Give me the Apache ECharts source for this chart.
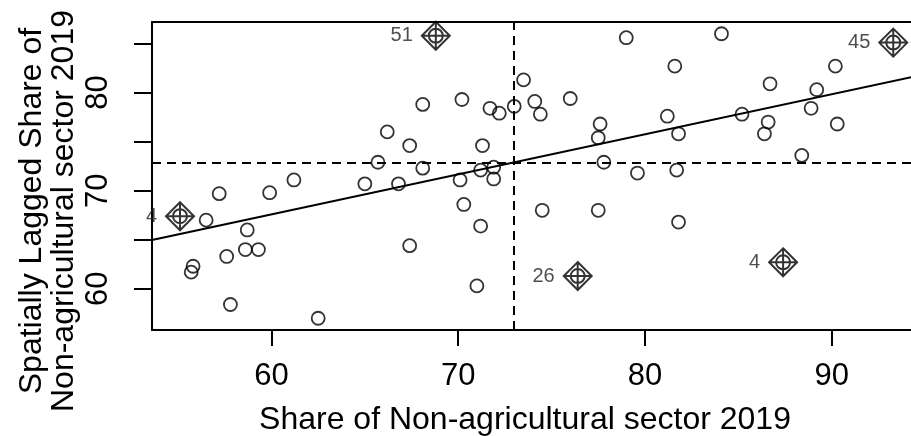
<!DOCTYPE html>
<html>
<head>
<meta charset="utf-8">
<script src="https://cdn.jsdelivr.net/npm/echarts@6/dist/echarts.min.js"></script>
<style>
  html, body { margin: 0; padding: 0; background: #fff; }
  #chart { width: 911px; height: 436px; }
</style>
</head>
<body>
<div id="chart"></div>
<script>
// share of non-agricultural sector (x) and its spatial lag (y)
var shareX = [66.2, 65.7, 79.0, 73.5, 68.1, 70.2, 71.7, 72.2, 73.0, 74.1,
              74.4, 76.0, 67.4, 71.3, 77.6, 77.5, 77.8, 79.6, 84.1, 81.6,
              90.2, 86.7, 89.2, 88.9, 85.2, 81.2, 81.8, 86.6, 86.4, 90.3,
              88.4, 81.7, 81.8, 61.2, 65.0, 66.8, 57.2, 59.9, 56.5, 58.7,
              57.6, 58.6, 59.3, 55.8, 55.7, 57.8, 62.5, 68.1, 70.1, 71.2,
              71.9, 71.9, 70.3, 71.2, 67.4, 71.0, 74.5, 77.5];
var lagY   = [76.0, 72.9, 85.6, 81.3, 78.8, 79.3, 78.4, 77.9, 78.6, 79.1,
              77.8, 79.4, 74.6, 74.6, 76.8, 75.4, 72.9, 71.8, 86.0, 82.7,
              82.7, 80.9, 80.3, 78.4, 77.8, 77.6, 75.8, 77.0, 75.8, 76.8,
              73.6, 72.1, 66.8, 71.1, 70.7, 70.7, 69.7, 69.8, 67.0, 66.0,
              63.3, 64.0, 64.0, 62.3, 61.7, 58.4, 57.0, 72.3, 71.1, 72.1,
              72.4, 71.2, 68.6, 66.4, 64.4, 60.3, 68.0, 68.0];

// influential observations
var inflLabels = ['51', '45', '26', '4', '4'];
var inflX = [68.8, 93.3, 76.4, 87.4, 55.1];
var inflY = [85.8, 85.1, 61.3, 62.7, 67.4];

var meanX = 73.0;
var meanY = 72.9;
var slope = 0.408;

var xTicks = [60, 70, 80, 90];
var yTicks = [60, 65, 70, 75, 80, 85];
var yLabels = [60, 70, 80];

var xMin = 53.6, xMax = 95;
var yMin = 55.8, yMax = 87.2;

var font = 'Liberation Sans, Arial, sans-serif';

function initChart() {
    var chart = echarts.init(document.getElementById('chart'));

    var pts = shareX.map(function(v, i) { return [v, lagY[i]]; });
    var infl = inflX.map(function(v, i) { return { value: [v, inflY[i]], name: inflLabels[i] }; });
    var fitLine = [xMin, xMax].map(function(x) { return [x, meanY + slope * (x - meanX)]; });

    // diamond with a crossed circle inside
    var inflSymbol = 'path://M0,-14 L14,0 L0,14 L-14,0 Z M-14,0 L14,0 M0,-14 L0,14 ' +
        'M-7,0 A7,7 0 1,0 7,0 A7,7 0 1,0 -7,0';

    var option = {
        animation: false,
        backgroundColor: '#fff',
        // plot box runs past the right edge of the picture
        grid: {
            left: 152, top: 22, width: 773, bottom: 106,
            outerBoundsMode: 'none',
            show: true, borderColor: '#000', borderWidth: 2
        },
        xAxis: {
            type: 'value', min: xMin, max: xMax,
            splitLine: { show: false },
            axisLine: { show: true, onZero: false, lineStyle: { color: '#000', width: 2 } },
            axisTick: { show: true, length: 16, customValues: xTicks, lineStyle: { color: '#000', width: 2 } },
            axisLabel: { customValues: xTicks, fontSize: 31, color: '#000', fontFamily: font, margin: 31 }
        },
        yAxis: {
            type: 'value', min: yMin, max: yMax,
            splitLine: { show: false },
            axisLine: { show: true, onZero: false, lineStyle: { color: '#000', width: 2 } },
            axisTick: { show: true, length: 18, customValues: yTicks, lineStyle: { color: '#000', width: 2 } },
            axisLabel: { customValues: yLabels, rotate: 90, fontSize: 31, color: '#000', fontFamily: font, margin: 38 }
        },
        graphic: [
            { type: 'text', x: 525, y: 420,
              style: { text: 'Share of Non-agricultural sector 2019', font: '32px ' + font,
                       fill: '#000', textAlign: 'center', textVerticalAlign: 'middle' } },
            { type: 'text', x: 32, y: 211, rotation: Math.PI / 2,
              style: { text: 'Spatially Lagged Share of', font: '32px ' + font,
                       fill: '#000', textAlign: 'center', textVerticalAlign: 'middle' } },
            { type: 'text', x: 64, y: 211, rotation: Math.PI / 2,
              style: { text: 'Non-agricultural sector 2019', font: '32px ' + font,
                       fill: '#000', textAlign: 'center', textVerticalAlign: 'middle' } }
        ],
        series: [
            {
                type: 'line',
                data: fitLine,
                symbol: 'none',
                lineStyle: { color: '#000', width: 2 },
                silent: true
            },
            {
                type: 'scatter',
                data: pts,
                symbol: 'circle',
                symbolSize: 13,
                itemStyle: { color: 'rgba(0,0,0,0)', borderColor: '#000', borderWidth: 1.8 },
                markLine: {
                    silent: true,
                    symbol: 'none',
                    label: { show: false },
                    lineStyle: { color: '#000', width: 2, type: [9, 6] },
                    data: [{ xAxis: meanX }, { yAxis: meanY }]
                }
            },
            {
                type: 'scatter',
                data: infl,
                symbol: inflSymbol,
                symbolSize: 28,
                itemStyle: { color: 'rgba(0,0,0,0)', borderColor: '#000', borderWidth: 2 },
                label: {
                    show: true, position: 'left', distance: 8,
                    formatter: '{b}', fontSize: 20, color: '#222', fontFamily: font
                }
            }
        ]
    };

    chart.setOption(option);
}
initChart();
</script>
</body>
</html>
